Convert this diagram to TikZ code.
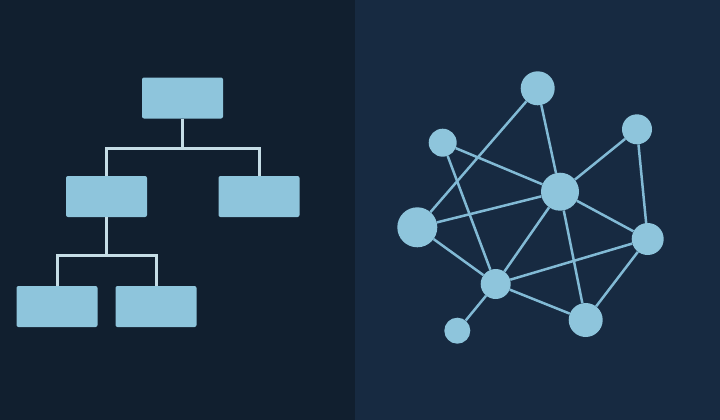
\documentclass[tikz,border=0pt]{standalone}
\usepackage{xcolor}
\definecolor{leftbg}{HTML}{111F2F}
\definecolor{rightbg}{HTML}{172A41}
\definecolor{boxblue}{HTML}{8EC5DC}
\definecolor{treeline}{HTML}{C6DDE6}
\definecolor{netline}{HTML}{82BAD5}

\tikzset{
  box/.style={rectangle,rounded corners=2pt,fill=boxblue,minimum width=81pt,minimum height=41pt,inner sep=0pt},
  branch/.style={draw=treeline,line width=3pt},
  dot/.style={circle,fill=boxblue,inner sep=0pt,minimum size=#1},
  link/.style={draw=netline,line width=2.5pt}
}

\begin{document}
\begin{tikzpicture}[x=1pt,y=-1pt]
   % background, two halves
   \fill[leftbg] (0,0) rectangle (355,420);
   \fill[rightbg] (355,0) rectangle (720,420);
   \useasboundingbox (0,0) rectangle (720,420);

   % hierarchy
   \node (root) [box] at (182.5,98) {};
   \node (midL) [box] at (106.5,196.5) {};
   \node (midR) [box] at (259,196.5) {};
   \node (lowL) [box] at (57,306.5) {};
   \node (lowR) [box] at (156,306.5) {};
   \coordinate (j1) at (182.5,148);
   \coordinate (j2) at (106.5,255);
   \draw [branch] (root.south) -- (j1);
   \draw [branch] (j1) -| (midL.north);
   \draw [branch] (j1) -| (midR.north);
   \draw [branch] (midL.south) -- (j2);
   \draw [branch] (j2) -| (lowL.north);
   \draw [branch] (j2) -| (lowR.north);

   % network
   \node (nA) [dot=34pt] at (537.7,88.3) {};
   \node (nB) [dot=28pt] at (442.7,142.7) {};
   \node (nC) [dot=30pt] at (637,129.3) {};
   \node (nD) [dot=38pt] at (560,191.7) {};
   \node (nE) [dot=40pt] at (417.3,227.3) {};
   \node (nF) [dot=32pt] at (647.7,239) {};
   \node (nG) [dot=30pt] at (495.7,284) {};
   \node (nH) [dot=34pt] at (585.7,320) {};
   \node (nI) [dot=26pt] at (457.3,330.7) {};
   \foreach \a/\b in {nA/nE,nA/nD,nB/nD,nB/nG,nC/nD,nC/nF,nE/nD,nE/nG,
                      nD/nG,nD/nF,nD/nH,nG/nF,nG/nH,nF/nH,nG/nI}
     \draw [link] (\a) -- (\b);
\end{tikzpicture}
\end{document}
